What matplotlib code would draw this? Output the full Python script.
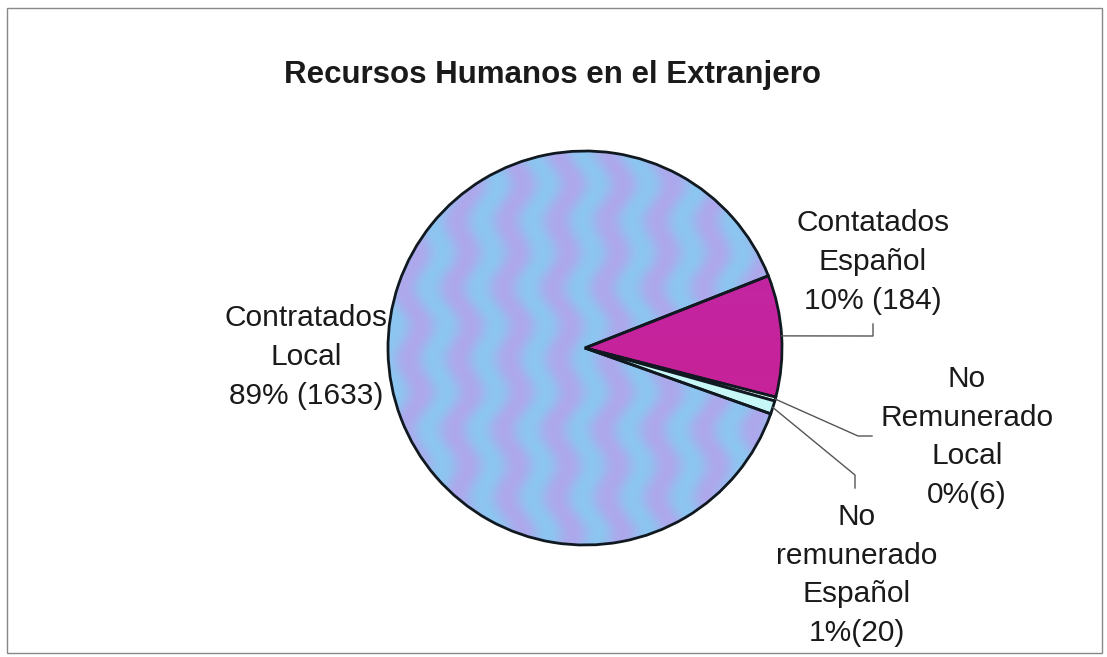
import numpy as np
import matplotlib
matplotlib.use("Agg")
import matplotlib.pyplot as plt
from matplotlib.patches import Rectangle

# Datos del gráfico (orden horario desde el sector magenta)
categorias = ["Contatados\nEspañol", "No\nRemunerado\nLocal",
              "No\nremunerado\nEspañol", "Contratados\nLocal"]
valores = [184, 6, 20, 1633]
separadores = [" ", "", "", " "]
colores = ["#c8229c", "#e4fafa", "#c6f6f6", "#9cb8ee"]
titulo = "Recursos Humanos en el Extranjero"

plt.rcParams["font.family"] = ["Liberation Sans", "DejaVu Sans"]

W, H = 1107, 657
fig = plt.figure(figsize=(W / 100, H / 100), dpi=100)
ax = fig.add_axes([0, 0, 1, 1])

cx, cy, r = 585, H - 348, 197

wedges, _ = ax.pie(valores, colors=colores, startangle=21.5, counterclock=False,
                   center=(cx, cy), radius=r, frame=True,
                   wedgeprops=dict(edgecolor="#101820", linewidth=2.0))

# relleno ondulado azul/lavanda para el sector grande
yy, xx = np.mgrid[cy - r:cy + r:1.0, cx - r:cx + r:1.0]
onda = 7 * np.sin(2 * np.pi * yy / 70) + 3 * np.sin(2 * np.pi * yy / 170)
t = 0.5 + 0.5 * np.sin(2 * np.pi * (xx + onda) / 50)
azul = np.array([140, 198, 240]) / 255
lavanda = np.array([174, 168, 236]) / 255
textura = azul * (1 - t[..., None]) + lavanda * t[..., None]
im = ax.imshow(textura, extent=(cx - r, cx + r, cy - r, cy + r), origin="lower",
               interpolation="bilinear", zorder=0.5)
im.set_clip_path(wedges[3])
wedges[3].set_facecolor("none")

# degradado suave para el sector magenta
g = (yy - (cy - r)) / (2 * r)
mag_a = np.array([190, 40, 170]) / 255
mag_b = np.array([204, 30, 142]) / 255
degradado = mag_a * g[..., None] + mag_b * (1 - g[..., None])
im2 = ax.imshow(degradado, extent=(cx - r, cx + r, cy - r, cy + r), origin="lower",
                zorder=0.5)
im2.set_clip_path(wedges[0])
wedges[0].set_facecolor("none")

ax.set_xlim(0, W)
ax.set_ylim(0, H)
ax.set_aspect("equal")
ax.axis("off")

total = sum(valores)
etiquetas = []
for cat, v, sep in zip(categorias, valores, separadores):
    pct = round(100 * v / total)
    etiquetas.append(f"{cat}\n{pct}%{sep}({v})")

# posiciones de las etiquetas (px desde arriba) y codos de las líneas guía
pos_etiquetas = [(873, 262), (967, 437), (857, 575), (306, 357)]
codos = [[(873, 336), (873, 324)], [(858, 436), (872, 436)],
         [(855, 475), (855, 488)], None]

for w, txt, (px, py), codo in zip(wedges, etiquetas, pos_etiquetas, codos):
    ax.text(px, H - py, txt, ha="center", va="center", fontsize=21.5,
            color="#1a1a1a", linespacing=1.48)
    if codo is None:
        continue
    ang = np.deg2rad((w.theta1 + w.theta2) / 2)
    xs = [cx + r * np.cos(ang)] + [c[0] for c in codo]
    ys = [cy + r * np.sin(ang)] + [H - c[1] for c in codo]
    ax.plot(xs, ys, color="#555555", linewidth=1.0, zorder=3)

ax.text(553, H - 75, titulo, ha="center", va="center", fontsize=22.5,
        fontweight="bold", color="#1a1a1a")

# marco del área del gráfico
ax.add_patch(Rectangle((7, H - 653), 1095, 645, fill=False,
                       edgecolor="#888888", linewidth=1.0, zorder=4))

fig.savefig("out.png", dpi=100)
